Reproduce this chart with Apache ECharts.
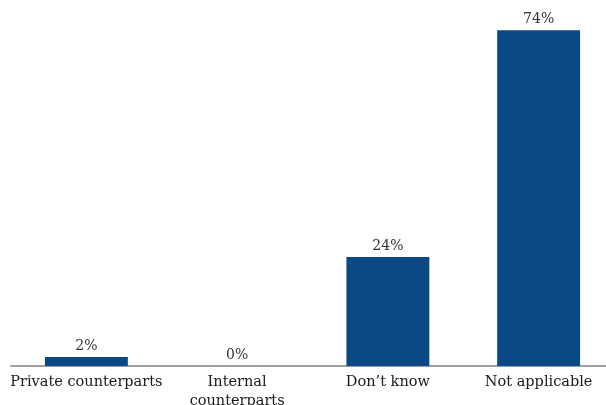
<!DOCTYPE html>
<html>
<head>
<meta charset="utf-8">
<script src="https://cdn.jsdelivr.net/npm/echarts@6/dist/echarts.min.js"></script>
<style>html,body{margin:0;padding:0;background:#fff}#c{width:606px;height:405px}</style>
</head>
<body>
<div id="c"></div>
<script>
const categories = ['Private counterparts', 'Internal\ncounterparts', 'Don\u2019t know', 'Not applicable'];
const values = [2, 0, 24, 74];
const chart = echarts.init(document.getElementById('c'));
chart.setOption({
  animation: false,
  grid: { left: 11, top: 3, bottom: 39, width: 603, containLabel: false, outerBoundsMode: 'none' },
  xAxis: {
    type: 'category', data: categories,
    axisLine: { lineStyle: { color: '#a0a0a0', width: 2 } },
    axisTick: { show: false },
    axisLabel: { color: '#1a1a1a', fontFamily: 'DejaVu Serif', fontSize: 14.5, margin: 7, lineHeight: 19, interval: 0 }
  },
  yAxis: { type: 'value', min: 0, max: 80, show: false, splitLine: { show: false } },
  series: [{
    type: 'bar', data: values, barWidth: '55%',
    itemStyle: { color: '#0b4984' },
    label: { show: true, position: 'top', formatter: '{c}%', color: '#333', fontFamily: 'DejaVu Serif', fontSize: 14, distance: 4 }
  }]
});
</script>
</body>
</html>
